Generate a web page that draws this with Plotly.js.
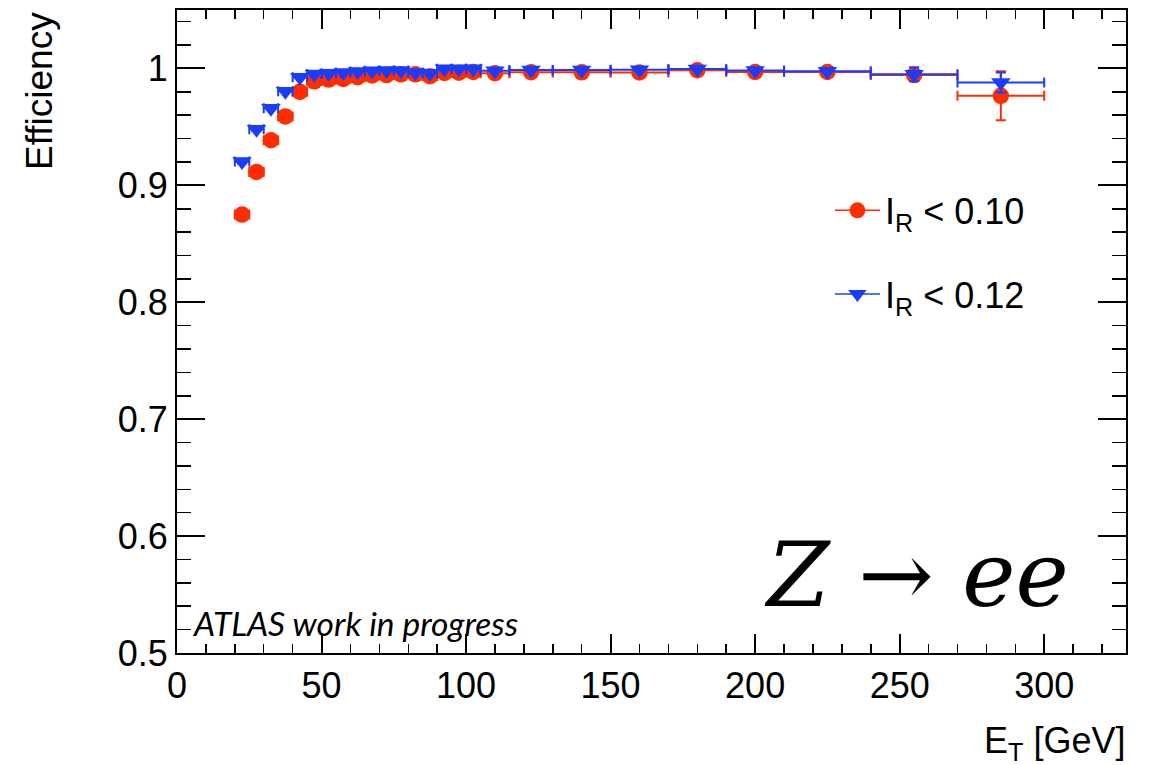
<!DOCTYPE html>
<html>
<head>
<meta charset="utf-8">
<script src="https://cdn.plot.ly/plotly-3.0.1.min.js"></script>
<style>html,body{margin:0;padding:0;background:#fff;}#plot{width:1156px;height:765px;}</style>
</head>
<body>
<div id="plot"></div>
<script>
// Bin centres (E_T, GeV) and half-widths
var etCenters = [22.5,27.5,32.5,37.5,42.5,47.5,52.5,57.5,62.5,67.5,72.5,77.5,82.5,87.5,92.5,97.5,102.5,110,122.5,140,160,180,200,225,255,285];
var etHalfWidth = [2.5,2.5,2.5,2.5,2.5,2.5,2.5,2.5,2.5,2.5,2.5,2.5,2.5,2.5,2.5,2.5,2.5,5,7.5,10,10,10,10,15,15,15];

// I_R < 0.10
var effR10 = [0.875,0.9115,0.9386,0.959,0.980,0.989,0.9905,0.991,0.9925,0.994,0.9943,0.995,0.995,0.9934,0.9962,0.9963,0.997,0.996,0.9968,0.9967,0.9966,0.9985,0.997,0.997,0.9943,0.9766];
var errR10 = [0.002,0.0015,0.0012,0.001,0.001,0.0008,0.0008,0.0008,0.0008,0.0008,0.0008,0.0008,0.0008,0.0008,0.0008,0.0008,0.0008,0.001,0.001,0.001,0.0012,0.0012,0.0015,0.002,0.005,0.021];

// I_R < 0.12
var effR12 = [0.9205,0.948,0.966,0.9805,0.9925,0.9952,0.996,0.9966,0.9974,0.998,0.9982,0.9982,0.9966,0.996,0.9998,0.9998,0.9998,0.998,0.9987,0.9987,0.9989,0.9996,0.9982,0.9977,0.995,0.988];
var errR12 = [0.0018,0.0014,0.0011,0.0009,0.0008,0.0006,0.0006,0.0006,0.0006,0.0006,0.0006,0.0006,0.0006,0.0006,0.0006,0.0006,0.0006,0.0008,0.0008,0.0008,0.001,0.001,0.0012,0.0015,0.006,0.0085];

var legendLabels = ['I<sub>R</sub> &lt; 0.10', 'I<sub>R</sub> &lt; 0.12'];

var RED = '#ff2d00';
var BLUE = '#1a3cff';

var traces = [
  {
    x: etCenters, y: effR10, type: 'scatter', mode: 'markers', showlegend: false,
    marker: {symbol: 'circle', size: 16.5, color: RED},
    error_x: {type: 'data', array: etHalfWidth, color: RED, thickness: 2, width: 5},
    error_y: {type: 'data', array: errR10, color: RED, thickness: 2, width: 5}
  },
  {
    x: etCenters, y: effR12, type: 'scatter', mode: 'markers', showlegend: false,
    marker: {symbol: 'triangle-down', size: 17, color: BLUE},
    error_x: {type: 'data', array: etHalfWidth, color: BLUE, thickness: 2, width: 5},
    error_y: {type: 'data', array: errR12, color: BLUE, thickness: 2, width: 5}
  },
  {
    x: [null], y: [null], type: 'scatter', mode: 'lines+markers', name: legendLabels[0], legendgroup: 'a',
    marker: {symbol: 'circle', size: 16, color: RED}, line: {color: RED, width: 1.5}
  },
  {
    x: [null], y: [null], type: 'scatter', mode: 'lines+markers', name: legendLabels[1], legendgroup: 'b',
    marker: {symbol: 'triangle-down', size: 16, color: BLUE}, line: {color: BLUE, width: 1.5}
  }
];

var tickFont = {family: 'Liberation Sans, Arial, sans-serif', size: 36, color: '#000'};

var layout = {
  width: 1156, height: 765,
  margin: {l: 177, r: 30, t: 10, b: 112},
  paper_bgcolor: '#fff', plot_bgcolor: '#fff',
  font: tickFont,
  showlegend: true,
  legend: {
    x: 0.688, xanchor: 'left', y: 0.735, yanchor: 'top',
    font: tickFont, bgcolor: 'rgba(0,0,0,0)', borderwidth: 0,
    traceorder: 'grouped', tracegroupgap: 34, itemwidth: 45
  },
  xaxis: {
    range: [0, 328.3], showgrid: false, zeroline: false,
    showline: true, linecolor: '#000', linewidth: 2, mirror: 'allticks',
    ticks: 'inside', ticklen: 19, tickwidth: 2, tickcolor: '#000',
    tick0: 0, dtick: 50, tickfont: tickFont,
    minor: {ticks: 'inside', ticklen: 9, tickwidth: 1.5, tickcolor: '#000', dtick: 10, showgrid: false}
  },
  yaxis: {
    range: [0.5, 1.05], showgrid: false, zeroline: false,
    showline: true, linecolor: '#000', linewidth: 2, mirror: 'allticks',
    ticks: 'inside', ticklen: 28, tickwidth: 2, tickcolor: '#000',
    tick0: 0.5, dtick: 0.1, tickfont: tickFont,
    minor: {ticks: 'inside', ticklen: 14, tickwidth: 1.5, tickcolor: '#000', dtick: 0.02, showgrid: false}
  },
  annotations: [
    {
      xref: 'paper', yref: 'paper', x: (1127 - 177) / 949, y: (653.3 - 768) / 643.3,
      xanchor: 'right', yanchor: 'bottom', showarrow: false,
      text: 'E<sub>T</sub> [GeV]', font: tickFont
    },
    {
      xref: 'paper', yref: 'paper', x: (39 - 177) / 949, y: 1,
      xanchor: 'center', yanchor: 'top', showarrow: false, textangle: -90,
      text: 'Efficiency', font: {family: 'Liberation Sans, Arial, sans-serif', size: 37, color: '#000'}
    },
    {
      xref: 'paper', yref: 'paper', x: (190 - 177) / 949, y: (653.3 - 645) / 643.3,
      xanchor: 'left', yanchor: 'bottom', showarrow: false,
      text: 'ATLAS work in progress',
      font: {family: 'Lato', size: 33.5, color: '#000', style: 'italic'}
    },
    {
      xref: 'paper', yref: 'paper', x: (916 - 177) / 949, y: (653.3 - 575) / 643.3,
      xanchor: 'center', yanchor: 'middle', showarrow: false,
      text: 'Z \u2192 ee',
      font: {family: 'DejaVu Serif', size: 90, color: '#000', style: 'italic'}
    }
  ]
};

Plotly.newPlot('plot', traces, layout, {displayModeBar: false, staticPlot: true});
</script>
</body>
</html>
